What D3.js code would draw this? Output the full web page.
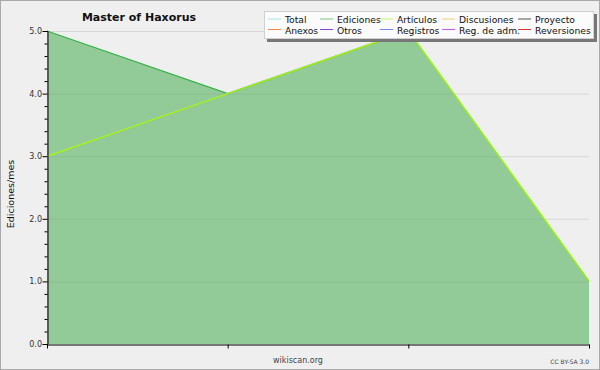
<!DOCTYPE html>
<html>
<head>
<meta charset="utf-8">
<script src="https://cdn.jsdelivr.net/npm/d3@7"></script>
<style>
  body { margin: 0; background: #fff; }
  svg { display: block; }
  text { font-family: "DejaVu Sans", sans-serif; }
</style>
</head>
<body>
<script>
// data
var months = ['m1', 'm2', 'm3', 'm4'];
var ediciones = [5, 4, 5, 1];
var articulos = [3, 4, 5, 1];
var yTicks = [0, 1, 2, 3, 4, 5];

var legendNames = ['Total', 'Ediciones', 'Artículos', 'Discusiones', 'Proyecto',
                   'Anexos', 'Otros', 'Registros', 'Reg. de adm.', 'Reversiones'];
var legendColors = ['#a8e4e4', '#78c488', '#c4f060', '#f0d070', '#555555',
                    '#f08850', '#8048d0', '#7888f0', '#c858e0', '#e03838'];

var width = 600, height = 370;
var margin = { left: 47, right: 11, top: 31, bottom: 26 };

var svg = d3.select('body').append('svg')
  .attr('width', width)
  .attr('height', height);

// background + frame
svg.append('rect')
  .attr('x', 0.5).attr('y', 0.5)
  .attr('width', width - 1).attr('height', height - 1)
  .attr('fill', '#efefef')
  .attr('stroke', '#a8a8a8');

var x = d3.scalePoint()
  .domain(months)
  .range([margin.left, width - margin.right]);

var y = d3.scaleLinear()
  .domain([0, 5])
  .range([height - margin.bottom, margin.top]);

var plot = svg.append('g');

/**
 * Filled area for Ediciones
 */
var area = d3.area()
  .x(function (d, i) { return x(months[i]); })
  .y0(y(0))
  .y1(function (d) { return y(d); });

var line = d3.line()
  .x(function (d, i) { return x(months[i]); })
  .y(function (d) { return y(d); });

plot.append('path')
  .datum(ediciones)
  .attr('d', area)
  .attr('fill', '#92cb98');

// gridlines over the fill
plot.append('g')
  .selectAll('line')
  .data(yTicks.slice(1))
  .enter()
  .append('line')
  .attr('x1', margin.left)
  .attr('x2', width - margin.right)
  .attr('y1', function (d) { return y(d) + 0.5; })
  .attr('y2', function (d) { return y(d) + 0.5; })
  .attr('stroke', '#888')
  .attr('stroke-opacity', 0.22);

plot.append('path')
  .datum(ediciones)
  .attr('d', line)
  .attr('fill', 'none')
  .attr('stroke', '#38b048')
  .attr('stroke-width', 1.3);

plot.append('path')
  .datum(articulos)
  .attr('d', line)
  .attr('fill', 'none')
  .attr('stroke', '#a8f020')
  .attr('stroke-width', 1.5);

///////////
// AXES
var yAxis = svg.append('g')
  .attr('transform', 'translate(' + (margin.left + 0.5) + ',0)')
  .call(d3.axisLeft(y)
    .tickValues(d3.range(0, 5.01, 0.2))
    .tickSize(3)
    .tickFormat(''));

yAxis.select('.domain').attr('stroke', '#000');

yAxis.selectAll('.tick line').attr('stroke', '#000');
yAxis.selectAll('.tick')
  .filter(function (d) { return Math.abs(d - Math.round(d)) < 1e-6; })
  .select('line')
  .attr('x2', -5);

svg.append('g')
  .selectAll('text')
  .data(yTicks)
  .enter()
  .append('text')
  .attr('x', margin.left - 5)
  .attr('y', function (d) { return y(d) + 3; })
  .attr('text-anchor', 'end')
  .attr('font-size', 8)
  .attr('fill', '#333')
  .text(function (d) { return d.toFixed(1); });

var xAxis = svg.append('g')
  .attr('transform', 'translate(0,' + (y(0) + 0.5) + ')')
  .call(d3.axisBottom(x).tickSize(4).tickFormat('').tickSizeOuter(0));

xAxis.select('.domain').attr('stroke', '#000').attr('stroke-width', 1.2);
xAxis.selectAll('.tick line').attr('stroke', '#000');

// y title
svg.append('text')
  .attr('transform', 'translate(14,' + 194 + ') rotate(-90)')
  .attr('text-anchor', 'middle')
  .attr('font-size', 9.5)
  .attr('fill', '#111')
  .text('Ediciones/mes');

// title
svg.append('text')
  .attr('x', 139)
  .attr('y', 21)
  .attr('text-anchor', 'middle')
  .attr('font-size', 11)
  .attr('font-weight', 'bold')
  .attr('fill', '#111')
  .text('Master of Haxorus');

svg.append('text')
  .attr('x', 298)
  .attr('y', 363)
  .attr('text-anchor', 'middle')
  .attr('font-size', 8)
  .attr('fill', '#444')
  .text('wikiscan.org');

svg.append('text')
  .attr('x', 589)
  .attr('y', 364)
  .attr('text-anchor', 'end')
  .attr('font-size', 6)
  .attr('fill', '#444')
  .text('CC BY-SA 3.0');

/**
 * Legend box
 */
var legend = svg.append('g');

legend.append('rect')
  .attr('x', 267).attr('y', 14)
  .attr('width', 330).attr('height', 28)
  .attr('fill', '#777');

legend.append('rect')
  .attr('x', 264.5).attr('y', 11.5)
  .attr('width', 329).attr('height', 27)
  .attr('fill', '#fbfbfb')
  .attr('stroke', '#d0d0d0');

var colX = [268, 320, 380, 442, 518];

var items = legend.selectAll('g.item')
  .data(legendNames)
  .enter()
  .append('g')
  .attr('class', 'item')
  .attr('transform', function (d, i) {
    return 'translate(' + colX[i % 5] + ',' + (i < 5 ? 19 : 29.5) + ')';
  });

items.append('line')
  .attr('x1', 0).attr('x2', 13)
  .attr('stroke', function (d, i) { return legendColors[i]; })
  .attr('stroke-width', 1);

items.append('text')
  .attr('x', 17)
  .attr('y', 4)
  .attr('font-size', 9.2)
  .attr('fill', '#111')
  .text(function (d) { return d; });
</script>
</body>
</html>
